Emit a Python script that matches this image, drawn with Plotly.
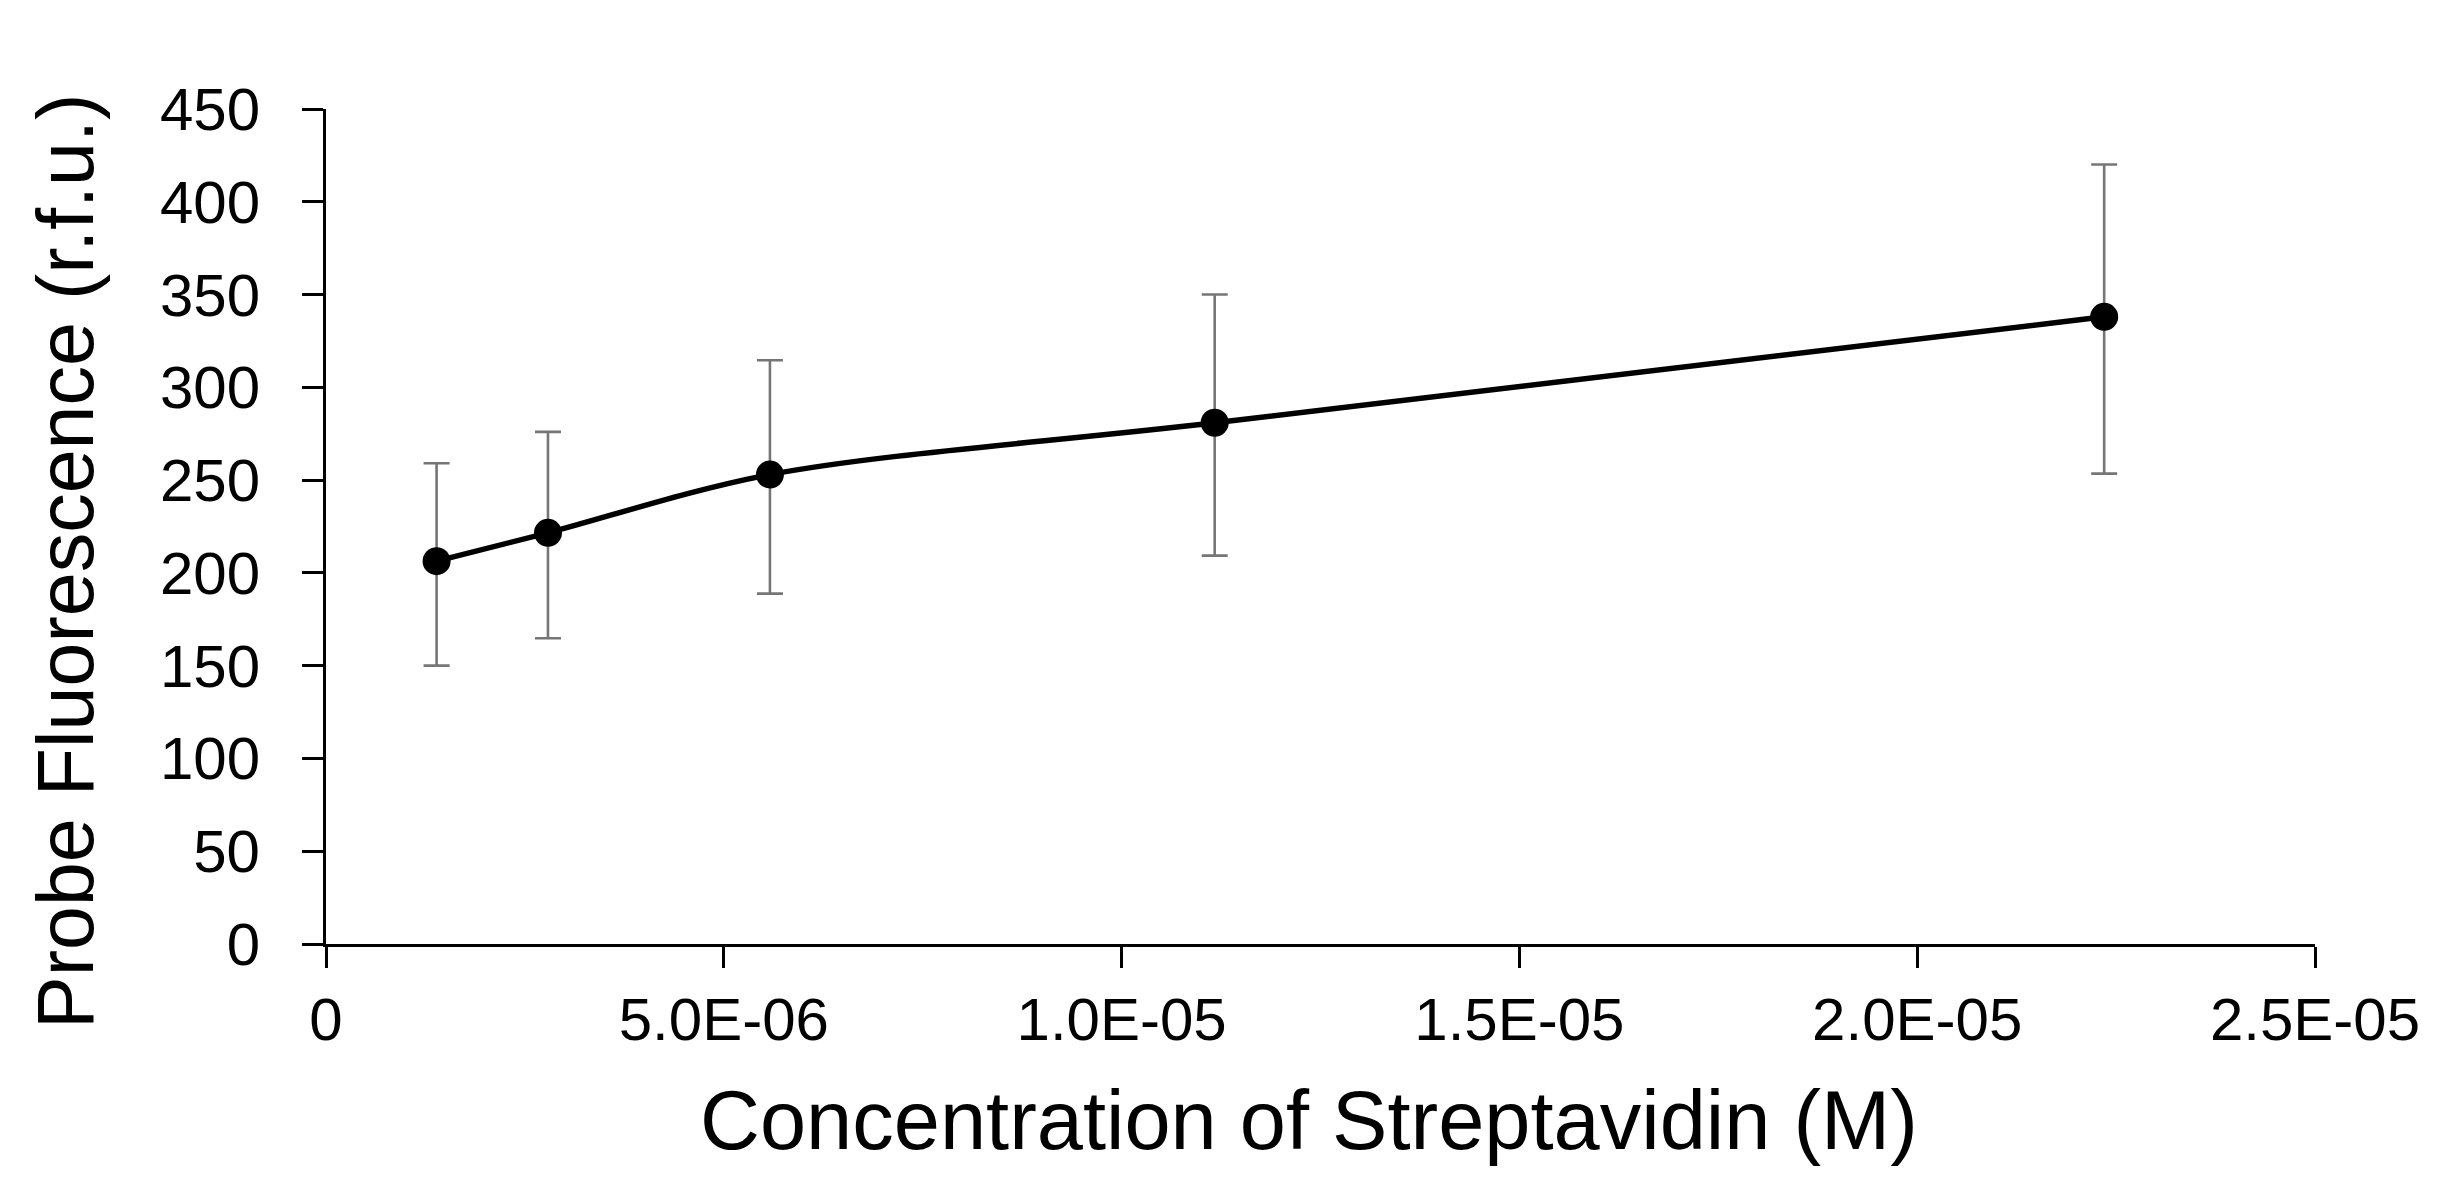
import plotly.graph_objects as go

# Data
concentration = [1.39e-6, 2.79e-6, 5.58e-6, 1.117e-5, 2.235e-5]
fluorescence = [206.3, 221.6, 253.0, 280.9, 338.0]
err_upper = [259.1, 276.0, 314.6, 350.0, 420.1]
err_lower = [150.0, 164.8, 188.8, 209.3, 253.5]

x_tickvals = [0, 5e-6, 1e-5, 1.5e-5, 2e-5, 2.5e-5]
x_ticktext = ["0", "5.0E-06", "1.0E-05", "1.5E-05", "2.0E-05", "2.5E-05"]
y_tickvals = [0, 50, 100, 150, 200, 250, 300, 350, 400, 450]

err_plus = [u - v for u, v in zip(err_upper, fluorescence)]
err_minus = [v - l for v, l in zip(fluorescence, err_lower)]

FONT = "Liberation Sans, Arial, sans-serif"

fig = go.Figure()
fig.add_trace(go.Scatter(
    x=concentration,
    y=fluorescence,
    mode="lines+markers",
    line=dict(color="black", width=5.5, shape="spline", smoothing=0.9),
    marker=dict(color="black", size=28, symbol="circle"),
    error_y=dict(
        type="data", symmetric=False,
        array=err_plus, arrayminus=err_minus,
        color="#767676", thickness=2.6, width=13,
    ),
    showlegend=False,
    cliponaxis=False,
))

fig.update_layout(
    width=2440, height=1190,
    margin=dict(l=318, r=133, t=101, b=254, pad=0),
    paper_bgcolor="white", plot_bgcolor="white",
    font=dict(family=FONT, color="black", size=60),
    xaxis=dict(
        range=[0, 2.5e-5],
        tickvals=x_tickvals, ticktext=x_ticktext,
        showgrid=False, zeroline=False,
        showline=True, linecolor="black", linewidth=3,
        ticks="outside", ticklen=21, tickwidth=2.5, tickcolor="black",
        tickfont=dict(family=FONT, size=60, color="black"),
        ticklabelstandoff=0,
    ),
    yaxis=dict(
        range=[0, 450],
        tickvals=y_tickvals,
        showgrid=False, zeroline=False,
        showline=True, linecolor="black", linewidth=3,
        ticks="outside", ticklen=21, tickwidth=2.5, tickcolor="black",
        tickfont=dict(family=FONT, size=60, color="black"),
        ticklabelstandoff=30,
    ),
    annotations=[
        dict(text="Probe Fluorescence (r.f.u.)", xref="paper", yref="paper",
             x=-0.131, y=0.458, xanchor="center", yanchor="middle",
             textangle=-90, showarrow=False,
             font=dict(family=FONT, size=79, color="black")),
        dict(text="Concentration of Streptavidin (M)", xref="paper", yref="paper",
             x=0.494, y=-0.211, xanchor="center", yanchor="middle",
             showarrow=False,
             font=dict(family=FONT, size=83, color="black")),
    ],
)

fig.write_html("out.html")
